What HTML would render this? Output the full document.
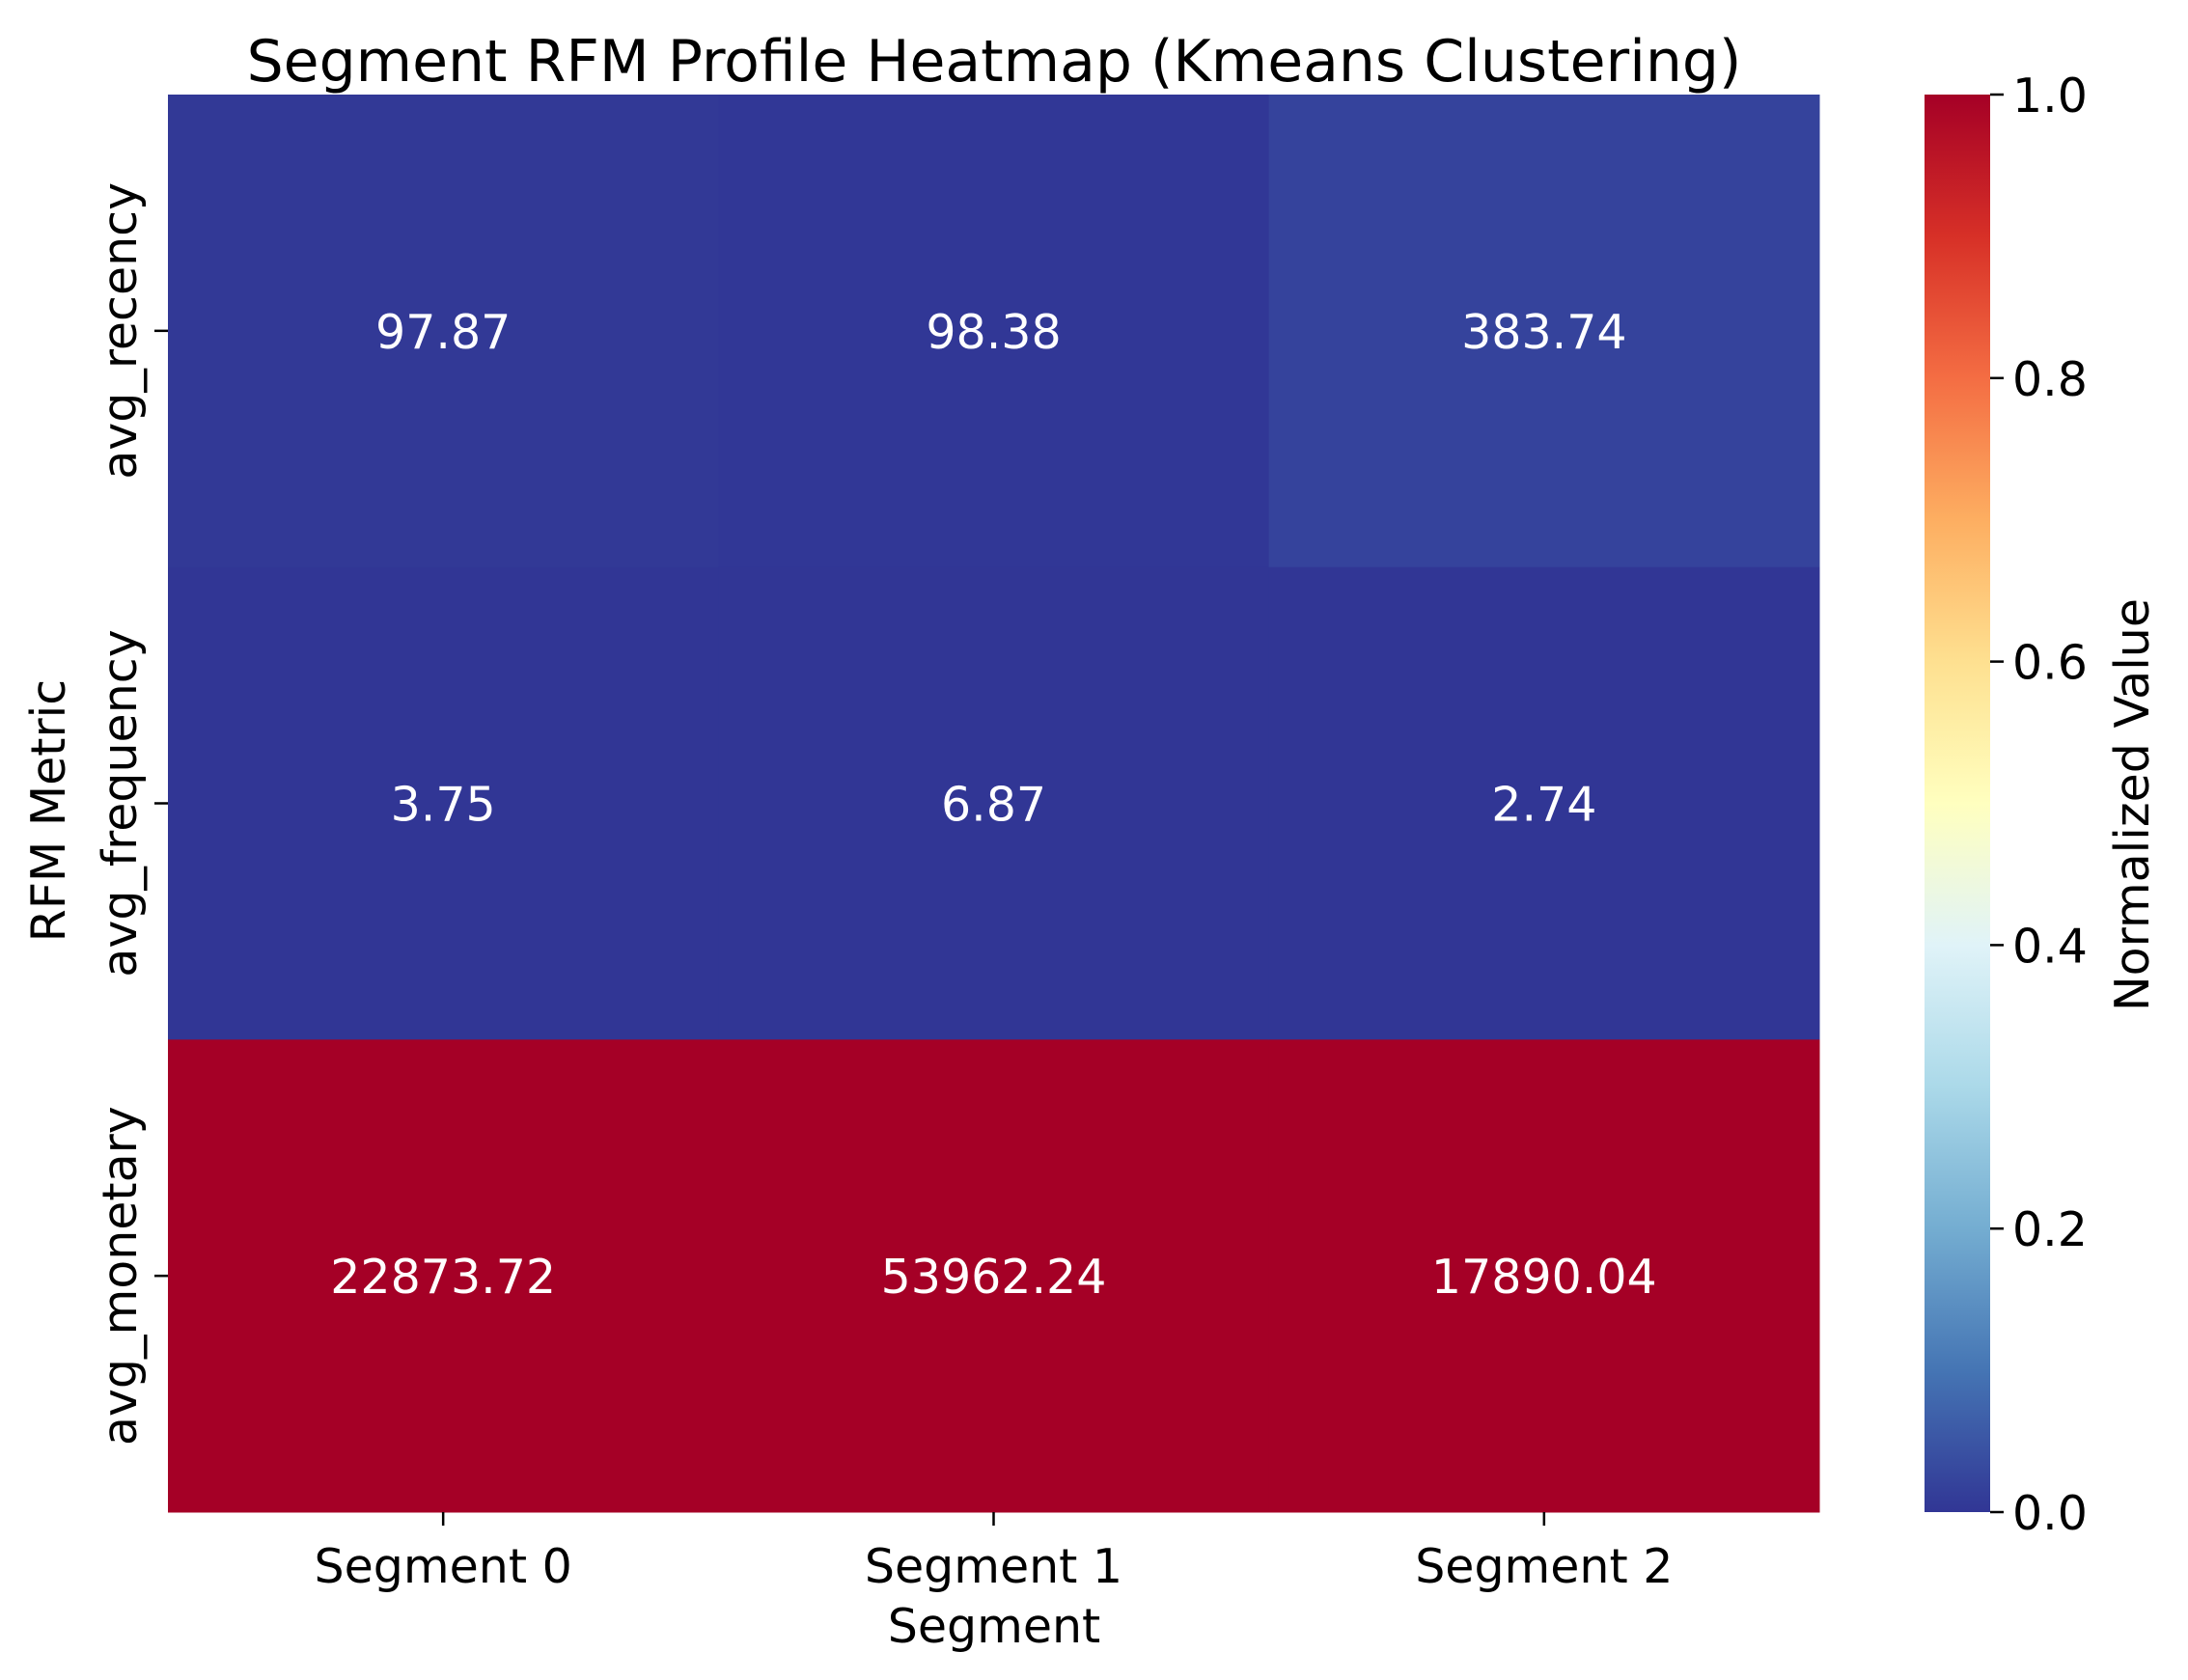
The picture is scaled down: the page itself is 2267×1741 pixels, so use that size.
<!DOCTYPE html>
<html><head><meta charset="utf-8"><style>
html,body{margin:0;padding:0;background:#fff}
svg{display:block;font-family:"DejaVu Sans","Liberation Sans",sans-serif}
</style></head><body>
<svg id="chart" width="2267" height="1741" viewBox="0 0 2267 1741" xmlns="http://www.w3.org/2000/svg">
<defs>
<linearGradient id="cbgrad" x1="0" y1="1" x2="0" y2="0">
<stop offset="0" stop-color="#313695"/><stop offset="0.1" stop-color="#4575b4"/><stop offset="0.2" stop-color="#74add1"/><stop offset="0.3" stop-color="#abd9e9"/><stop offset="0.4" stop-color="#e0f3f8"/><stop offset="0.5" stop-color="#ffffbf"/><stop offset="0.6" stop-color="#fee090"/><stop offset="0.7" stop-color="#fdae61"/><stop offset="0.8" stop-color="#f46d43"/><stop offset="0.9" stop-color="#d73027"/><stop offset="1" stop-color="#a50026"/>
</linearGradient>
</defs>
<text x="1030" y="84" font-size="60" text-anchor="middle">Segment RFM Profile Heatmap (Kmeans Clustering)</text>
<g id="cells"></g>
<g id="axes"></g>
<rect x="1994" y="98" width="68" height="1469" fill="url(#cbgrad)"/>
<g id="cbticks"></g>
<text transform="translate(2226,834) rotate(-90)" font-size="49" text-anchor="middle">Normalized Value</text>
<text transform="translate(67,840) rotate(-90)" font-size="49" text-anchor="middle">RFM Metric</text>
<text x="1030" y="1702" font-size="49" text-anchor="middle">Segment</text>
</svg>
<script>
const segments = ["Segment 0", "Segment 1", "Segment 2"];
const metrics = ["avg_recency", "avg_frequency", "avg_monetary"];
const recency = [97.87, 98.38, 383.74];
const frequency = [3.75, 6.87, 2.74];
const monetary = [22873.72, 53962.24, 17890.04];
const cbTicks = [0.0, 0.2, 0.4, 0.6, 0.8, 1.0];

const NS = "http://www.w3.org/2000/svg";
const L = 174, R = 1885, T = 98, B = 1567;
const cw = (R - L) / segments.length, rh = (B - T) / metrics.length;
const xPos = i => L + i * cw;
const yPos = j => T + j * rh;
const cbY = v => B - v * (B - T);
const stops = ["#313695","#4575b4","#74add1","#abd9e9","#e0f3f8","#ffffbf","#fee090","#fdae61","#f46d43","#d73027","#a50026"];
function hex(h){return [1,3,5].map(k=>parseInt(h.substr(k,2),16));}
function cmap(t){
  t=Math.max(0,Math.min(1,t));const p=t*10,i=Math.min(9,Math.floor(p)),f=p-i;
  const a=hex(stops[i]),b=hex(stops[i+1]);
  return "rgb("+a.map((v,k)=>Math.round(v+(b[k]-v)*f)).join(",")+")";
}
function mk(tag, attrs, parent){const e=document.createElementNS(NS,tag);for(const k in attrs)e.setAttribute(k,attrs[k]);parent.appendChild(e);return e;}
const rows = [recency, frequency, monetary];
const cells = document.getElementById("cells");
const axes = document.getElementById("axes");
for (let i = 0; i < segments.length; i++) {
  const col = rows.map(r => r[i]);
  const mn = Math.min(...col), mx = Math.max(...col);
  for (let j = 0; j < metrics.length; j++) {
    const v = rows[j][i];
    const t = (v - mn) / (mx - mn || 1);
    const r = mk("rect", {x: xPos(i), y: yPos(j), width: cw + 0.5, height: rh + 0.5, fill: cmap(t)}, cells);
    
    
    const tx = mk("text", {x: xPos(i) + cw / 2, y: yPos(j) + rh / 2 + 18, "font-size": 49, "text-anchor": "middle", fill: "#fff"}, cells);
    tx.textContent = v.toFixed(2);
    
    
  }
}
segments.forEach((s, i) => {
  const cx = xPos(i) + cw / 2;
  const tk = mk("line", {x1: cx, x2: cx, y1: B, y2: B + 14, stroke: "#000", "stroke-width": 2.5}, axes);
  
  
  const t = mk("text", {x: cx, y: 1640, "font-size": 49, "text-anchor": "middle"}, axes);
  t.textContent = s;
  
  
});
metrics.forEach((m, j) => {
  const cy = yPos(j) + rh / 2;
  const tk = mk("line", {x1: L - 14, x2: L, y1: cy, y2: cy, stroke: "#000", "stroke-width": 2.5}, axes);
  
  
  const t = mk("text", {transform: "translate(141," + cy + ") rotate(-90)", "font-size": 49, "text-anchor": "middle"}, axes);
  t.textContent = m;
  
  
});
const cbg = document.getElementById("cbticks");
cbTicks.forEach(v => {
  const y = cbY(v);
  const tk = mk("line", {x1: 2062, x2: 2076, y1: y, y2: y, stroke: "#000", "stroke-width": 2.5}, cbg);
  
  
  const t = mk("text", {x: 2085, y: y + 18, "font-size": 49}, cbg);
  t.textContent = v.toFixed(1);
  
  
});
</script>
</body></html>
